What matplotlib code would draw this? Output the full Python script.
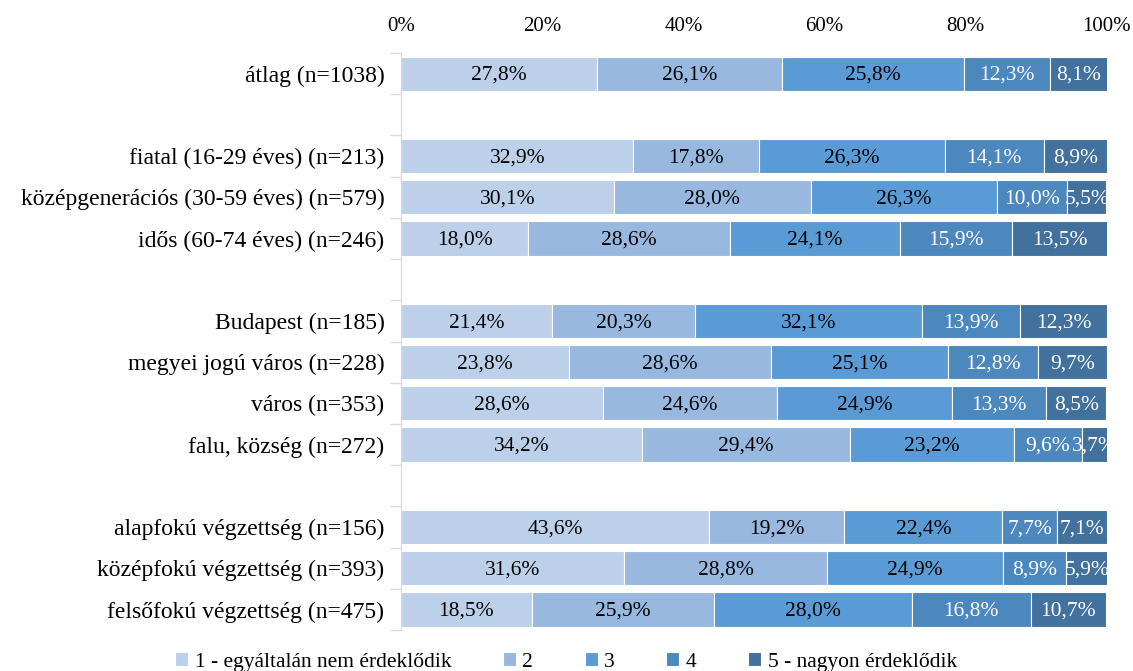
import numpy as np
import matplotlib
matplotlib.use("Agg")
import matplotlib.pyplot as plt

plt.rcParams["font.family"] = ["Liberation Serif", "DejaVu Serif"]
plt.rcParams["font.size"] = 14

# kategóriák (None = üres sor a csoportok között)
categories = ["átlag (n=1038)", None,
              "fiatal (16-29 éves) (n=213)",
              "középgenerációs (30-59 éves) (n=579)",
              "idős (60-74 éves) (n=246)", None,
              "Budapest (n=185)",
              "megyei jogú város (n=228)",
              "város (n=353)",
              "falu, község (n=272)", None,
              "alapfokú végzettség (n=156)",
              "középfokú végzettség (n=393)",
              "felsőfokú végzettség (n=475)"]

s1 = [27.8, 32.9, 30.1, 18.0, 21.4, 23.8, 28.6, 34.2, 43.6, 31.6, 18.5]
s2 = [26.1, 17.8, 28.0, 28.6, 20.3, 28.6, 24.6, 29.4, 19.2, 28.8, 25.9]
s3 = [25.8, 26.3, 26.3, 24.1, 32.1, 25.1, 24.9, 23.2, 22.4, 24.9, 28.0]
s4 = [12.3, 14.1, 10.0, 15.9, 13.9, 12.8, 13.3, 9.6, 7.7, 8.9, 16.8]
s5 = [8.1, 8.9, 5.5, 13.5, 12.3, 9.7, 8.5, 3.7, 7.1, 5.9, 10.7]

series_names = ["1 - egyáltalán nem érdeklődik", "2", "3", "4",
                "5 - nagyon érdeklődik"]
colors = ["#BDD0EA", "#98B8DF", "#5B9BD5", "#4C87BE", "#41719C"]
text_colors = ["black", "black", "black", "white", "white"]

ypos = np.array([i for i, c in enumerate(categories) if c is not None])
labels = [c for c in categories if c is not None]
data = np.array([s1, s2, s3, s4, s5])

fig = plt.figure(figsize=(11.33, 6.71), dpi=100)
ax = fig.add_axes([0.354, 0.061, 0.623, 0.860])

left = np.zeros(len(ypos))
for k in range(5):
    vals = data[k]
    ax.barh(ypos, vals, left=left, height=0.83, color=colors[k],
            edgecolor="white", linewidth=0.8, label=series_names[k])
    for y, l, v in zip(ypos, left, vals):
        ax.text(l + v / 2, y + 0.04, f"{v:.1f}%".replace(".", ","),
                ha="center", va="center", color=text_colors[k], fontsize=15.5)
    left += vals

ax.set_xlim(0, 100)
ax.set_ylim(len(categories) - 0.5, -0.5)
ax.xaxis.tick_top()
ax.set_xticks(np.arange(0, 101, 20))
ax.set_xticklabels([f"{t}%" for t in range(0, 101, 20)])
ax.tick_params(axis="x", length=0, pad=12, labelsize=15)
ax.set_yticks(ypos)
ax.set_yticklabels(labels)
ax.tick_params(axis="y", which="major", length=0, pad=12, labelsize=17)
ax.set_yticks(np.arange(-0.5, len(categories)), minor=True)
ax.tick_params(axis="y", which="minor", length=8, color="#D9D9D9", width=1)
for s in ["top", "right", "bottom"]:
    ax.spines[s].set_visible(False)
ax.spines["left"].set_color("#D9D9D9")

fig.legend(loc="center", bbox_to_anchor=(566 / 1133, 1 - 662 / 671),
           ncol=5, frameon=False, handlelength=0.6, handleheight=0.6,
           handletextpad=0.3, columnspacing=2.4, fontsize=15.5)

fig.savefig("out.png", dpi=100)
